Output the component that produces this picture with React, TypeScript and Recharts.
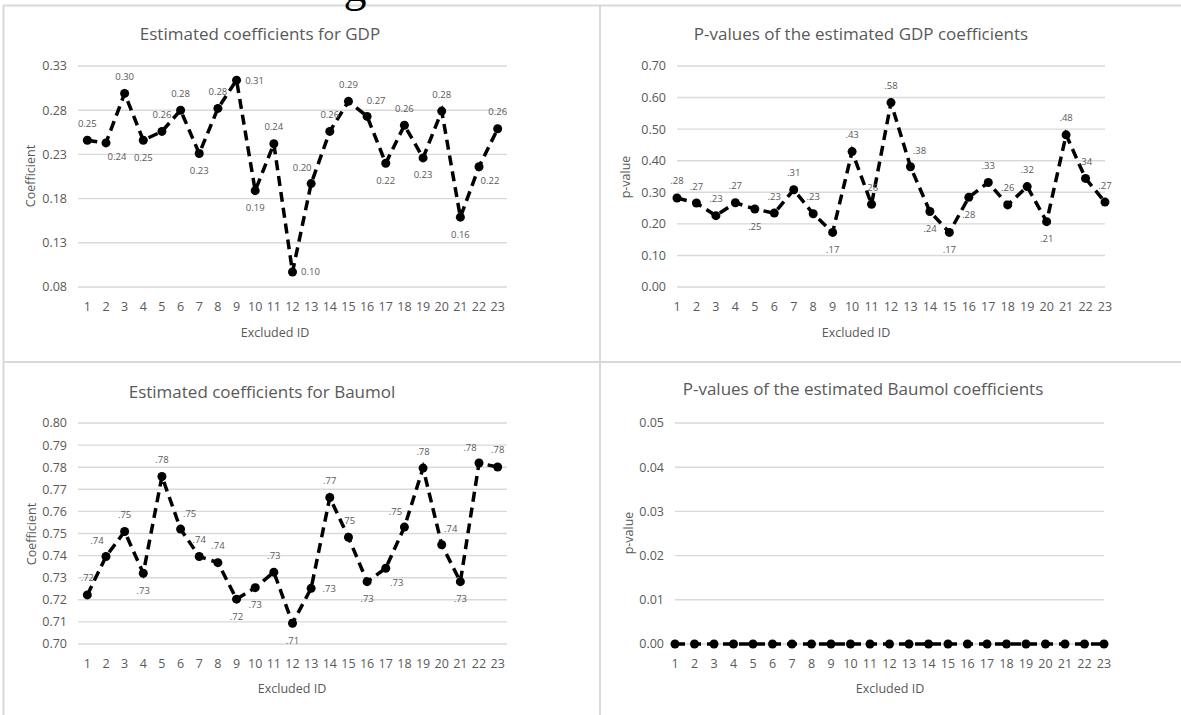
import React from 'react';
import { LineChart, Line, XAxis, YAxis, CartesianGrid, LabelList } from 'recharts';

const FONT = "'Open Sans', sans-serif";
const GREY = '#595959';
const GRID = '#d9d9d9';

// x categories
const excludedIds = [1, 2, 3, 4, 5, 6, 7, 8, 9, 10, 11, 12, 13, 14, 15, 16, 17, 18, 19, 20, 21, 22, 23];

// series
const gdpCoef = [0.246, 0.243, 0.299, 0.246, 0.256, 0.28, 0.231, 0.282, 0.314, 0.189, 0.242, 0.097, 0.197, 0.256, 0.29, 0.273, 0.22, 0.263, 0.226, 0.279, 0.159, 0.216, 0.259];
const gdpPval = [0.282, 0.266, 0.226, 0.267, 0.247, 0.234, 0.308, 0.232, 0.173, 0.429, 0.262, 0.584, 0.381, 0.239, 0.173, 0.284, 0.331, 0.26, 0.318, 0.207, 0.482, 0.344, 0.269];
const baumolCoef = [0.7222, 0.7396, 0.7509, 0.732, 0.7758, 0.752, 0.7396, 0.7368, 0.7203, 0.7255, 0.7325, 0.7094, 0.7252, 0.7663, 0.7483, 0.7282, 0.7343, 0.7529, 0.7796, 0.7449, 0.7282, 0.7819, 0.7801];
const baumolPval = [0, 0, 0, 0, 0, 0, 0, 0, 0, 0, 0, 0, 0, 0, 0, 0, 0, 0, 0, 0, 0, 0, 0];

// y tick labels
const gdpCoefTicks = [0.08, 0.13, 0.18, 0.23, 0.28, 0.33];
const gdpPvalTicks = [0, 0.1, 0.2, 0.3, 0.4, 0.5, 0.6, 0.7];
const baumolCoefTicks = [0.7, 0.71, 0.72, 0.73, 0.74, 0.75, 0.76, 0.77, 0.78, 0.79, 0.8];
const baumolPvalTicks = [0, 0.01, 0.02, 0.03, 0.04, 0.05];

// where each data label sits relative to its point
const gdpCoefPos = ['a', 'br', 'a', 'b', 'a', 'a', 'b', 'a', 'r', 'b', 'a', 'r', 'al', 'a', 'a', 'ar', 'b', 'a', 'b', 'a', 'b', 'br', 'a'];
const gdpPvalPos = ['a', 'a', 'a', 'a', 'b', 'a', 'a', 'a', 'b', 'a', 'a', 'a', 'ar', 'b', 'b', 'b', 'a', 'a', 'a', 'b', 'a', 'a', 'a'];
const baumolCoefPos = ['a', 'al', 'a', 'b', 'a', 'ar', 'a', 'a', 'b', 'b', 'a', 'b', 'r', 'a', 'a', 'b', 'br', 'al', 'a', 'ar', 'b', 'al', 'a'];

const OFFSETS: Record<string, [number, number]> = {
  a: [0, -17],
  b: [0, 17],
  r: [18, 0],
  l: [-18, 0],
  ar: [9, -16],
  al: [-9, -16],
  br: [11, 14],
};

const fmt2 = (v: number) => v.toFixed(2);
const fmtShort = (v: number) => v.toFixed(2).replace(/^0/, '');

const makeLabel = (fmt: (v: number) => string, pos: string[]) => (props: any) => {
  const { x, y, value, index } = props;
  const [dx, dy] = OFFSETS[pos[index]] || OFFSETS.a;
  return (
    <text
      x={x + dx}
      y={y + dy}
      textAnchor="middle"
      dominantBaseline="central"
      fontSize={9.5}
      fontFamily={FONT}
      fill={GREY}
    >
      {fmt(value)}
    </text>
  );
};

type PanelProps = {
  left: number;
  top: number;
  width: number;
  height: number;
  plot: { x0: number; x1: number; y0: number; y1: number };
  values: number[];
  xDomain: [number, number];
  yDomain: [number, number];
  yTicks: number[];
  labelFmt?: (v: number) => string;
  labelPos?: string[];
};

function Panel({ left, top, width, height, plot, values, xDomain, yDomain, yTicks, labelFmt, labelPos }: PanelProps) {
  const data = excludedIds.map((id, i) => ({ id, v: values[i] }));
  const xAxisH = 30;
  const tickStyle = { fill: GREY, fontSize: 12.5, fontFamily: FONT };
  return (
    <div style={{ position: 'absolute', left, top }}>
      <LineChart
        width={width}
        height={height}
        data={data}
        margin={{ top: plot.y0, right: width - plot.x1, bottom: height - plot.y1 - xAxisH, left: 0 }}
      >
        <CartesianGrid vertical={false} stroke={GRID} strokeWidth={1.4} />
        <XAxis
          type="number"
          dataKey="id"
          domain={xDomain}
          ticks={excludedIds}
          interval={0}
          height={xAxisH}
          axisLine={false}
          tickLine={false}
          tickSize={0}
          tickMargin={15}
          tick={tickStyle}
        />
        <YAxis
          type="number"
          domain={yDomain}
          ticks={yTicks}
          interval={0}
          width={plot.x0}
          axisLine={false}
          tickLine={false}
          tickSize={0}
          tickMargin={11}
          tickFormatter={fmt2}
          tick={tickStyle}
        />
        <Line
          type="linear"
          dataKey="v"
          stroke="#000"
          strokeWidth={3.5}
          strokeDasharray="10 6"
          dot={{ r: 4.5, fill: '#000', stroke: '#000', strokeWidth: 0, strokeDasharray: '0' }}
          isAnimationActive={false}
        >
          {labelFmt && labelPos && <LabelList dataKey="v" content={makeLabel(labelFmt, labelPos)} />}
        </Line>
      </LineChart>
    </div>
  );
}

function Overlay() {
  const title = { fontSize: 17, fontFamily: FONT, fill: GREY, textAnchor: 'middle' as const, dominantBaseline: 'central' as const };
  const axis = { fontSize: 12.5, fontFamily: FONT, fill: GREY, textAnchor: 'middle' as const, dominantBaseline: 'central' as const };
  return (
    <svg width={1181} height={715} style={{ position: 'absolute', left: 0, top: 0, pointerEvents: 'none' }}>
      <line x1={3} y1={5.5} x2={1181} y2={5.5} stroke={GRID} strokeWidth={2} />
      <line x1={3.5} y1={5} x2={3.5} y2={715} stroke={GRID} strokeWidth={2} />
      <line x1={600} y1={5} x2={600} y2={715} stroke={GRID} strokeWidth={2} />
      <line x1={3} y1={362} x2={1181} y2={362} stroke={GRID} strokeWidth={2} />
      <text x={355} y={1} fontSize={46} fontFamily="'Liberation Serif', serif" fill="#000" textAnchor="middle">g</text>

      <text x={260} y={33} {...title}>Estimated coefficients for GDP</text>
      <text x={861} y={33} {...title}>P-values of the estimated GDP coefficients</text>
      <text x={262} y={391} {...title}>Estimated coefficients for Baumol</text>
      <text x={863} y={388} {...title}>P-values of the estimated Baumol coefficients</text>

      <text x={275} y={332} {...axis}>Excluded ID</text>
      <text x={856} y={332} {...axis}>Excluded ID</text>
      <text x={292} y={688} {...axis}>Excluded ID</text>
      <text x={890} y={688} {...axis}>Excluded ID</text>

      <text x={30} y={176} {...axis} transform="rotate(-90 30 176)">Coefficient</text>
      <text x={625} y={177} {...axis} transform="rotate(-90 625 177)">p-value</text>
      <text x={31} y={534} {...axis} transform="rotate(-90 31 534)">Coefficient</text>
      <text x={628} y={533} {...axis} transform="rotate(-90 628 533)">p-value</text>
    </svg>
  );
}

export default function App() {
  return (
    <div style={{ position: 'absolute', left: 0, top: 0, width: 1181, height: 715, background: '#fff', overflow: 'hidden' }}>
      <Panel
        left={0}
        top={0}
        width={600}
        height={355}
        plot={{ x0: 78, x1: 507, y0: 66, y1: 287 }}
        values={gdpCoef}
        xDomain={[0.5, 23.5]}
        yDomain={[0.08, 0.33]}
        yTicks={gdpCoefTicks}
        labelFmt={fmt2}
        labelPos={gdpCoefPos}
      />
      <Panel
        left={600}
        top={0}
        width={581}
        height={355}
        plot={{ x0: 77, x1: 505, y0: 66, y1: 287 }}
        values={gdpPval}
        xDomain={[1, 23]}
        yDomain={[0, 0.7]}
        yTicks={gdpPvalTicks}
        labelFmt={fmtShort}
        labelPos={gdpPvalPos}
      />
      <Panel
        left={0}
        top={355}
        width={600}
        height={360}
        plot={{ x0: 78, x1: 507, y0: 68, y1: 289 }}
        values={baumolCoef}
        xDomain={[0.5, 23.5]}
        yDomain={[0.7, 0.8]}
        yTicks={baumolCoefTicks}
        labelFmt={fmtShort}
        labelPos={baumolCoefPos}
      />
      <Panel
        left={600}
        top={355}
        width={581}
        height={360}
        plot={{ x0: 75, x1: 504, y0: 68, y1: 289 }}
        values={baumolPval}
        xDomain={[1, 23]}
        yDomain={[0, 0.05]}
        yTicks={baumolPvalTicks}
      />
      <Overlay />
    </div>
  );
}
